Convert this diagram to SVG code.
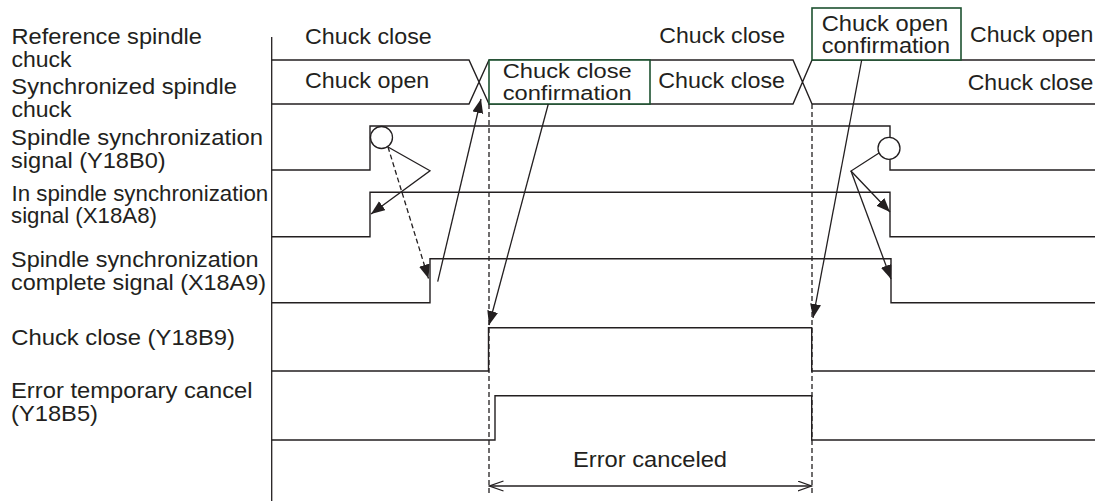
<svg xmlns="http://www.w3.org/2000/svg" width="1095" height="501" viewBox="0 0 1095 501">
<style>
text{font-family:"Liberation Sans",Arial,sans-serif;font-size:21.5px;fill:#231f20}
.sm{font-size:20px}
.sig{fill:none;stroke:#231f20;stroke-width:1.4}
.ln{fill:none;stroke:#231f20;stroke-width:1.3}
.dash{fill:none;stroke:#231f20;stroke-width:1.3;stroke-dasharray:5,3}
.gbox{fill:#fff;stroke:#1d5230;stroke-width:1.6}
</style>
<defs>
<marker id="ah" markerUnits="userSpaceOnUse" markerWidth="16" markerHeight="12" refX="14" refY="5.5" orient="auto">
<path d="M0,0 L14,5.5 L0,11 Z" fill="#231f20"/>
</marker>
<marker id="oa" markerUnits="userSpaceOnUse" markerWidth="16" markerHeight="12" refX="14" refY="5.5" orient="auto-start-reverse">
<path d="M0,0.5 L14,5.5 L0,10.5" fill="none" stroke="#231f20" stroke-width="1.3"/>
</marker>
</defs>

<g id="labels">
<text x="11.5" y="44" textLength="190.5" lengthAdjust="spacingAndGlyphs">Reference spindle</text>
<text x="11.5" y="66.7" textLength="60" lengthAdjust="spacingAndGlyphs">chuck</text>
<text x="11.3" y="93.5" textLength="225.7" lengthAdjust="spacingAndGlyphs">Synchronized spindle</text>
<text x="11.5" y="116.7" textLength="60" lengthAdjust="spacingAndGlyphs">chuck</text>
<text x="11" y="145" textLength="252" lengthAdjust="spacingAndGlyphs">Spindle synchronization</text>
<text x="11" y="167.5" textLength="154.7" lengthAdjust="spacingAndGlyphs">signal (Y18B0)</text>
<text x="11.5" y="200.7" textLength="256.7" lengthAdjust="spacingAndGlyphs">In spindle synchronization</text>
<text x="11" y="223.3" textLength="146" lengthAdjust="spacingAndGlyphs">signal (X18A8)</text>
<text x="11" y="266.7" textLength="247.5" lengthAdjust="spacingAndGlyphs">Spindle synchronization</text>
<text x="11" y="290" textLength="255" lengthAdjust="spacingAndGlyphs">complete signal (X18A9)</text>
<text x="11.2" y="345" textLength="223.8" lengthAdjust="spacingAndGlyphs">Chuck close (Y18B9)</text>
<text x="11" y="398.3" textLength="241.6" lengthAdjust="spacingAndGlyphs">Error temporary cancel</text>
<text x="11" y="420.5" textLength="87" lengthAdjust="spacingAndGlyphs">(Y18B5)</text>
</g>

<g id="axis">
<line class="ln" x1="271.7" y1="37" x2="271.7" y2="501"/>
</g>

<g id="chuck-rows">
<path class="sig" d="M271.7,60 H469 L489,104 M271.7,104 H469 L489,60 M489,60 H793 L812,104 M489,104 H793 L812,60 M812,60 H1095 M812,104 H1095"/>
<rect class="gbox" x="489" y="60" width="161" height="44"/>
<rect class="gbox" x="812" y="8" width="149" height="52"/>
<text x="305" y="43.5" textLength="126.7" lengthAdjust="spacingAndGlyphs">Chuck close</text>
<text x="659.3" y="43.3" textLength="125.7" lengthAdjust="spacingAndGlyphs">Chuck close</text>
<text x="305" y="88.3" textLength="124.3" lengthAdjust="spacingAndGlyphs">Chuck open</text>
<text class="sm" x="502.7" y="78" textLength="129" lengthAdjust="spacingAndGlyphs">Chuck close</text>
<text class="sm" x="502.7" y="99.5" textLength="129" lengthAdjust="spacingAndGlyphs">confirmation</text>
<text x="658.3" y="88.3" textLength="126.7" lengthAdjust="spacingAndGlyphs">Chuck close</text>
<text x="821.7" y="31" textLength="126.6" lengthAdjust="spacingAndGlyphs">Chuck open</text>
<text x="821.7" y="53.3" textLength="128.3" lengthAdjust="spacingAndGlyphs">confirmation</text>
<text x="970" y="41.7" textLength="123.3" lengthAdjust="spacingAndGlyphs">Chuck open</text>
<text x="967.7" y="90" textLength="125.6" lengthAdjust="spacingAndGlyphs">Chuck close</text>
</g>

<g id="sig-Y18B0"><path class="sig" d="M271.7,170 H370 V126 H890 V170 H1095"/></g>
<g id="sig-X18A8"><path class="sig" d="M271.7,236.7 H370 V192.3 H890 V236.7 H1095"/></g>
<g id="sig-X18A9"><path class="sig" d="M271.7,302.7 H430 V258.7 H891 V302.7 H1095"/></g>
<g id="sig-Y18B9"><path class="sig" d="M271.7,371 H488.5 V327.7 H811.7 V371 H1095"/></g>
<g id="sig-Y18B5"><path class="sig" d="M271.7,440 H495 V395.7 H811.7 V440 H1095"/></g>

<g id="connectors">
<line class="dash" x1="489" y1="104" x2="489" y2="494"/>
<line class="dash" x1="812" y1="104" x2="812" y2="494"/>
<path class="ln" d="M388,147 L430,170.7 L371,214" marker-end="url(#ah)"/>
<line class="dash" x1="388" y1="147" x2="428.5" y2="278.5" marker-end="url(#ah)"/>
<line class="ln" x1="437.7" y1="281.7" x2="481" y2="99" marker-end="url(#ah)"/>
<line class="ln" x1="548.3" y1="104" x2="489" y2="325" marker-end="url(#ah)"/>
<line class="ln" x1="861.7" y1="60" x2="813" y2="318" marker-end="url(#ah)"/>
<path class="ln" d="M879,153 L851,171 L890,212" marker-end="url(#ah)"/>
<line class="ln" x1="851" y1="171" x2="891" y2="279" marker-end="url(#ah)"/>
<line class="ln" x1="489.5" y1="486" x2="811.5" y2="486" marker-start="url(#oa)" marker-end="url(#oa)"/>
<text x="573" y="466.7" textLength="154" lengthAdjust="spacingAndGlyphs">Error canceled</text>
</g>

<g id="markers-circles">
<circle cx="381.5" cy="137.5" r="11" fill="#fff" stroke="#231f20" stroke-width="1.3"/>
<circle cx="889" cy="148.3" r="11" fill="#fff" stroke="#231f20" stroke-width="1.3"/>
</g>
</svg>
